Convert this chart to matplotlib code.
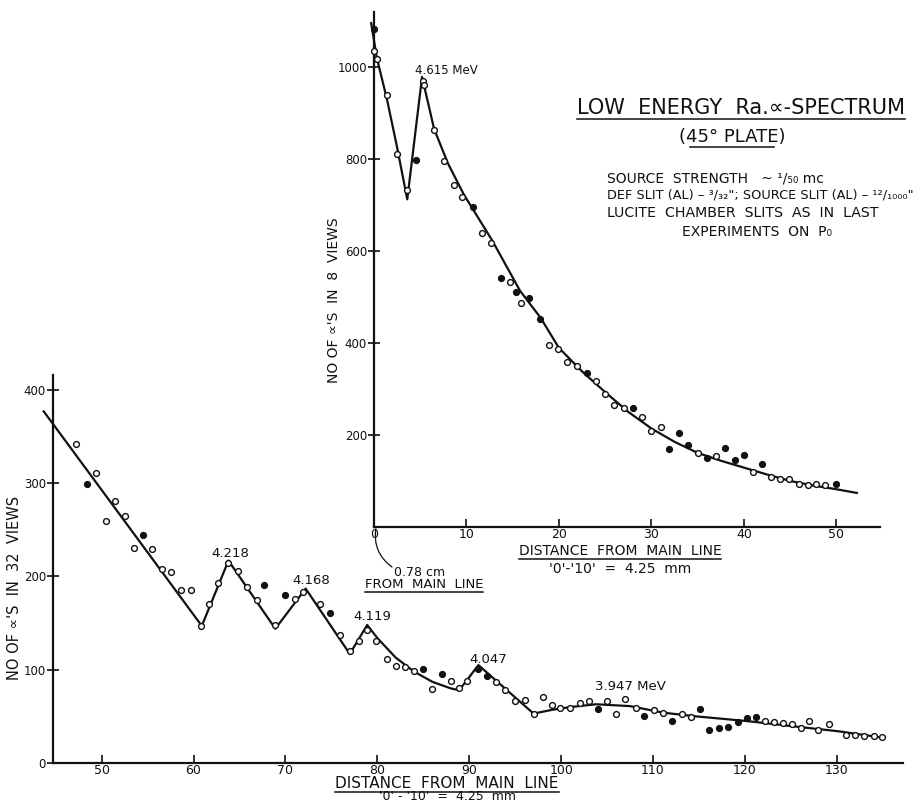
import matplotlib
matplotlib.use('Agg')
import matplotlib.pyplot as plt
from matplotlib.lines import Line2D

"""DATA - MAIN (LOW ENERGY) SPECTRUM, 32 VIEWS"""

main_open_x = [47.2, 49.4, 50.5, 51.5, 52.5, 53.5, 55.5, 56.6, 57.5, 58.6,
               59.7, 60.8, 61.7, 62.7, 63.8, 64.8, 65.8, 66.9, 68.9, 71.0,
               71.9, 73.8, 75.9, 77.0, 78.0, 78.9, 79.9, 81.0, 82.0, 83.0,
               84.0, 86.0, 88.0, 88.9, 89.8, 92.9, 93.9, 95.0, 96.1, 97.0,
               98.0, 99.0, 99.9, 101.0, 102.0, 103.0, 105.0, 106.0, 107.0, 108.1,
               110.1, 111.1, 113.1, 114.1, 122.2, 123.2, 124.1, 125.1, 126.1, 127.0,
               128.0, 129.1, 131.0, 132.0, 133.0, 134.0, 134.9]
main_open_y = [342, 311, 259, 281, 265, 230, 229, 208, 205, 186,
               186, 147, 171, 193, 214, 206, 189, 175, 148, 176,
               183, 171, 137, 120, 131, 143, 131, 111, 104, 103,
               99, 79, 87.5, 80, 88, 87, 78, 66, 68, 53,
               71, 62, 59, 59, 64, 66, 67, 53, 69, 59,
               57, 54, 53, 49, 45, 44, 43, 42, 38, 45,
               35, 42, 30, 30, 29, 29, 28]

main_solid_x = [48.4, 54.5, 67.7, 69.9, 74.8, 85.0, 87.0, 90.9, 91.9, 104.0,
                109.0, 112.1, 115.1, 116.1, 117.2, 118.2, 119.2, 120.2, 121.2]
main_solid_y = [299, 244, 191, 180, 161, 101, 95, 101, 93, 58,
                50, 45, 58, 35, 38, 39, 44, 48, 49]

# hand drawn fitted line
main_curve_x = [43.7, 60.9, 63.8, 68.9, 72.2, 77.0, 78.9, 80, 82, 84, 86, 88, 88.9,
                91.0, 97.0, 99, 101, 103.8, 107.5, 111.1, 114.7, 120.2, 125.6, 130.2, 135.1]
main_curve_y = [377, 147, 217, 144, 187, 117, 148, 134, 113, 98, 87, 80, 78,
                105, 53, 57, 60, 63, 61, 54, 50, 45, 39, 34, 27]

peak_labels = ['4.218', '4.168', '4.119', '4.047', '3.947 MeV']
peak_x = [64.0, 72.8, 79.4, 92.1, 107.5]
peak_y = [225, 196, 157, 111, 82]

main_xticks = [50, 60, 70, 80, 90, 100, 110, 120, 130]
main_yticks = [0, 100, 200, 300, 400]

"""DATA - INSET (4.615 MeV REGION), 8 VIEWS"""

ins_open_x = [0.0, 0.3, 1.4, 2.45, 3.6, 5.3, 5.4, 6.5, 7.6, 8.6,
              9.5, 11.7, 12.7, 14.7, 15.9, 18.9, 19.9, 20.9, 22.0, 24.0,
              25.0, 26.0, 27.0, 29.0, 30.0, 31.0, 35.0, 37.0, 41.0, 42.9,
              43.9, 44.9, 45.9, 46.9, 47.8, 48.8]
ins_open_y = [1035, 1018, 938, 811, 732, 970, 960, 863, 796, 743,
              718, 638, 618, 532, 486, 396, 386, 359, 349, 318,
              289, 266, 259, 239, 209, 218, 161, 155, 119, 109,
              105, 104, 93, 91, 93, 91]

ins_solid_x = [0.0, 4.5, 10.7, 13.7, 15.4, 16.8, 17.9, 23.0, 28.0, 31.9,
               33.0, 34.0, 36.0, 38.0, 39.0, 40.0, 42.0, 49.9]
ins_solid_y = [1083, 798, 696, 540, 510, 497, 451, 334, 259, 169,
               204, 179, 150, 171, 146, 156, 136, 94]

ins_curve_x = [-0.3, 0.3, 1.4, 2.45, 3.6, 5.2, 6.5, 8, 9.7, 12.8, 15.8, 18, 20,
               22.5, 25, 27.5, 30, 32.5, 35, 37.5, 40, 42.5, 45, 47.5, 50, 52.2]
ins_curve_y = [1095, 1020, 930, 830, 712, 978, 865, 790, 723, 622, 513, 455, 389,
               338, 293, 250, 214, 185, 161, 144, 129, 114, 100, 90, 82, 74]

ins_xticks = [0, 10, 20, 30, 40, 50]
ins_yticks = [200, 400, 600, 800, 1000]

assert len(main_open_x) == len(main_open_y)
assert len(main_solid_x) == len(main_solid_y)
assert len(ins_open_x) == len(ins_open_y)
assert len(ins_solid_x) == len(ins_solid_y)

INK = '#111111'
plt.rcParams['font.family'] = ['DejaVu Sans']


def style_axis(ax, xticks, yticks):
    for side in ('top', 'right'):
        ax.spines[side].set_visible(False)
    for side in ('left', 'bottom'):
        ax.spines[side].set_linewidth(1.6)
        ax.spines[side].set_color(INK)
    ax.set_facecolor('none')
    ax.set_xticks(xticks)
    ax.set_yticks(yticks)
    ax.tick_params(axis='x', direction='in', length=6, width=1.2, colors=INK,
                   labelsize=9, pad=0.5)
    ax.tick_params(axis='y', direction='inout', length=9, width=1.2, colors=INK,
                   labelsize=8.5, pad=0.5)


def plot_points(ax, xo, yo, xs, ys):
    ax.plot(xo, yo, 'o', ms=4.2, mfc='white', mec=INK, mew=1.0, clip_on=False, zorder=3)
    ax.plot(xs, ys, 'o', ms=4.2, mfc=INK, mec=INK, mew=1.0, clip_on=False, zorder=3)


def fig_xy(px, py):
    # reference pixel position (from top-left) -> figure fraction
    return px / 922, 1 - py / 802


fig = plt.figure(figsize=(9.22, 8.02), dpi=100)

# MAIN PLOT
ax = fig.add_axes([0.0574, 0.0486, 0.9220, 0.4838])
ax.set_xlim(44.7, 137.2)
ax.set_ylim(0, 416)
style_axis(ax, main_xticks, main_yticks)
ax.plot(main_curve_x, main_curve_y, color=INK, lw=1.6, clip_on=False, zorder=2)
plot_points(ax, main_open_x, main_open_y, main_solid_x, main_solid_y)
for lbl, px, py in zip(peak_labels, peak_x, peak_y):
    ax.text(px, py, lbl, ha='center', va='center', fontsize=9.5, color=INK)

# INSET PLOT
ax2 = fig.add_axes([0.4056, 0.3429, 0.5488, 0.6421])
ax2.set_xlim(0, 54.7)
ax2.set_ylim(0, 1119)
style_axis(ax2, ins_xticks, ins_yticks)
ax2.xaxis.get_major_ticks()[0].tick1line.set_visible(False)
ax2.plot(ins_curve_x, ins_curve_y, color=INK, lw=1.6, clip_on=False, zorder=2)
plot_points(ax2, ins_open_x, ins_open_y, ins_solid_x, ins_solid_y)
ax2.text(4.4, 992, '4.615 MeV', ha='left', va='center', fontsize=8.5, color=INK)

# 0.78 cm note with curved pointer to the origin
ax2.annotate('', xy=(0.2, -4), xytext=(392, 802 - 567), textcoords='figure pixels',
             annotation_clip=False,
             arrowprops=dict(arrowstyle='-', color=INK, lw=0.9, shrinkA=0, shrinkB=0,
                             connectionstyle='arc3,rad=-0.3'))
fig.text(*fig_xy(394, 572), '0.78 cm', ha='left', va='center', fontsize=9, color=INK)
note_from = fig.text(*fig_xy(424, 584), 'FROM  MAIN  LINE', ha='center', va='center',
                     fontsize=9.5, color=INK)

# AXIS LABELS AND NOTES
under = [note_from]
under.append(fig.text(*fig_xy(447, 783), 'DISTANCE  FROM  MAIN  LINE',
                      ha='center', va='center', fontsize=11, color=INK))
fig.text(*fig_xy(447, 797), "'0' - '10'  =  4.25  mm",
         ha='center', va='center', fontsize=9, color=INK)
under.append(fig.text(*fig_xy(620, 551), 'DISTANCE  FROM  MAIN  LINE',
                      ha='center', va='center', fontsize=10, color=INK))
fig.text(*fig_xy(620, 569), "'0'-'10'  =  4.25  mm",
         ha='center', va='center', fontsize=10, color=INK)
fig.text(*fig_xy(15, 588), "NO OF ∝'S  IN  32  VIEWS", rotation=90,
         ha='center', va='center', fontsize=10.5, color=INK)
fig.text(*fig_xy(334, 300), "NO OF ∝'S  IN  8  VIEWS", rotation=90,
         ha='center', va='center', fontsize=10, color=INK)

under.append(fig.text(*fig_xy(741, 108), 'LOW  ENERGY  Ra.∝-SPECTRUM',
                      ha='center', va='center', fontsize=15, color=INK))
fig.text(*fig_xy(732, 137), '(45° PLATE)', ha='center', va='center',
         fontsize=13, color=INK)
notes = ['SOURCE  STRENGTH   ~ ¹/₅₀ mc',
         'DEF SLIT (AL) – ³/₃₂"; SOURCE SLIT (AL) – ¹²/₁₀₀₀"',
         'LUCITE  CHAMBER  SLITS  AS  IN  LAST']
note_sizes = [10, 9.3, 10.2]
for i, (line, fs) in enumerate(zip(notes, note_sizes)):
    fig.text(*fig_xy(607, 178 + 17.5 * i), line, ha='left', va='center',
             fontsize=fs, color=INK)
fig.text(*fig_xy(757, 232), 'EXPERIMENTS  ON  P₀', ha='center', va='center',
         fontsize=10, color=INK)

# UNDERLINES (hand drawn style)
fig.canvas.draw()
renderer = fig.canvas.get_renderer()
W, H = fig.bbox.width, fig.bbox.height
for t in under:
    bb = t.get_window_extent(renderer)
    yline = (bb.y0 - 1) / H
    fig.add_artist(Line2D([bb.x0 / W, bb.x1 / W], [yline, yline], color=INK, lw=1.1))
# (45° PLATE) underline without the brackets
x0, y0 = fig_xy(690, 147)
x1, _ = fig_xy(774, 147)
fig.add_artist(Line2D([x0, x1], [y0, y0], color=INK, lw=1.1))

fig.savefig('out.png', dpi=100, facecolor='white')
